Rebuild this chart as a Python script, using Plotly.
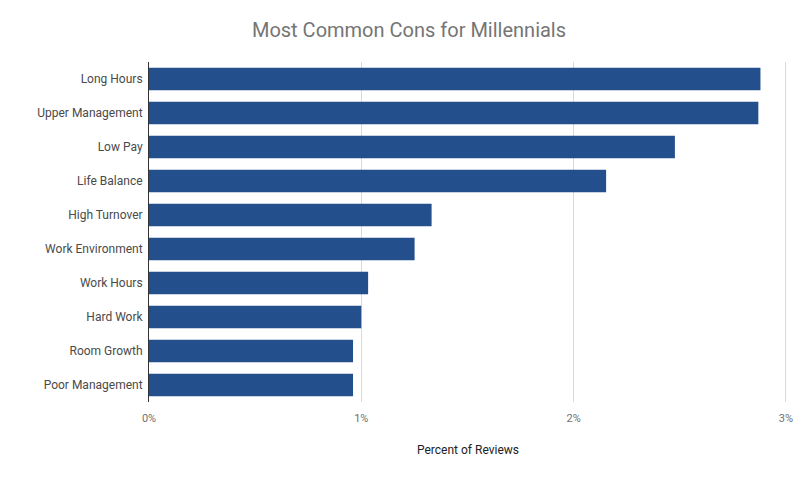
import plotly.graph_objects as go

# data (percent of reviews)
cons = ['Long Hours', 'Upper Management', 'Low Pay', 'Life Balance', 'High Turnover',
        'Work Environment', 'Work Hours', 'Hard Work', 'Room Growth', 'Poor Management']
pct = [2.88, 2.87, 2.477, 2.153, 1.331, 1.251, 1.032, 1.0, 0.961, 0.961]

x_ticks = [0, 1, 2, 3]
x_labels = ['0%', '1%', '2%', '3%']

fig = go.Figure(go.Bar(
    x=pct,
    y=cons,
    orientation='h',
    marker=dict(color='#234f8c', line=dict(width=0)),
))

# page body has an 8px margin, so the figure is a bit smaller than the window
fig.update_layout(
    width=802, height=471,
    title=dict(text='Most Common Cons for Millennials', x=0.5, xanchor='center',
               y=0.953, yanchor='middle',
               font=dict(family='Roboto', size=20, color='#757575')),
    font=dict(family='Roboto', size=12, color='#444444'),
    paper_bgcolor='white', plot_bgcolor='white',
    margin=dict(l=141, r=23, t=54, b=77),
    bargap=0.34,
    showlegend=False,
)
fig.update_xaxes(
    range=[0, 3.005], tickvals=x_ticks, ticktext=x_labels,
    showgrid=True, gridcolor='#d9d9d9', gridwidth=1,
    zeroline=False, showline=False, ticks='', automargin=False,
    tickfont=dict(size=11, color='#707070'), ticklabelstandoff=8,
    title=dict(text='Percent of Reviews', font=dict(size=12, color='#222222'), standoff=21),
)
fig.update_yaxes(
    categoryorder='array', categoryarray=cons[::-1],
    showline=True, linecolor='#333333', linewidth=1,
    showgrid=False, ticks='', ticklabelstandoff=3, automargin=False,
    tickfont=dict(size=12, color='#4a4a4a'),
)

fig.write_html('out.html')
